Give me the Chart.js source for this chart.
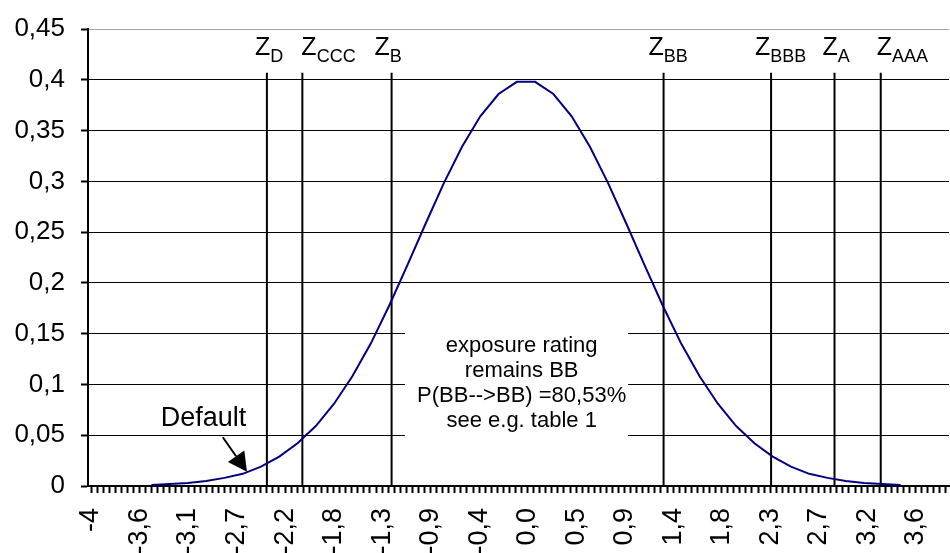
<!DOCTYPE html>
<html lang="en">
<head>
  <meta charset="UTF-8" />
  <title>Rating migration – BB</title>
  <script src="https://cdn.jsdelivr.net/npm/chart.js"></script>
  <style>
    html, body { margin: 0; padding: 0; background: #fff; overflow: hidden; }
    .chart-box { position: absolute; left: 0; top: 0; width: 950px; height: 556px; }
  </style>
</head>
<body>
  <div class="chart-box">
    <canvas id="chart"></canvas>
  </div>

  <script>
    // category axis: one label every 8 categories
    const xTickLabels = ['-4', '-3,6', '-3,1', '-2,7', '-2,2', '-1,8', '-1,3', '-0,9', '-0,4',
                         '0,0', '0,5', '0,9', '1,4', '1,8', '2,3', '2,7', '3,2', '3,6'];
    const categoryCount = 142;
    const categoriesPerLabel = 8;

    const yTickLabels = ['0', '0,05', '0,1', '0,15', '0,2', '0,25', '0,3', '0,35', '0,4', '0,45'];

    // density curve
    const densityX = [-3.485, -3.315, -3.145, -2.975, -2.805, -2.635, -2.465, -2.295, -2.125, -1.955, -1.785,
                      -1.615, -1.445, -1.275, -1.105, -0.935, -0.765, -0.595, -0.425, -0.255, -0.085,
                      0.085, 0.255, 0.425, 0.595, 0.765, 0.935, 1.105, 1.275, 1.445, 1.615,
                      1.785, 1.955, 2.125, 2.295, 2.465, 2.635, 2.805, 2.975, 3.145, 3.315, 3.485];
    const densityY = [0.001, 0.002, 0.003, 0.005, 0.008, 0.012, 0.019, 0.029, 0.042, 0.059, 0.081,
                      0.108, 0.140, 0.177, 0.217, 0.258, 0.298, 0.334, 0.364, 0.386, 0.398,
                      0.398, 0.386, 0.364, 0.334, 0.298, 0.258, 0.217, 0.177, 0.140, 0.108,
                      0.081, 0.059, 0.042, 0.029, 0.019, 0.012, 0.008, 0.005, 0.003, 0.002, 0.001];

    // rating thresholds
    const zNames = ['D', 'CCC', 'B', 'BB', 'BBB', 'A', 'AAA'];
    const zValues = [-2.41, -2.08, -1.25, 1.28, 2.28, 2.87, 3.30];
    const zTop = 0.407;

    const noteLines = ['exposure rating', 'remains BB', 'P(BB-->BB) =80,53%', 'see e.g. table 1'];
    const arrowText = 'Default';

    // label nudges in px (the original places them by hand)
    const zLabelShift = [-12, -1, -17, -15, -16, -12, -4];

    const FONT = '"Liberation Sans", Arial, sans-serif';

    const categories = [];
    for (let i = 0; i < categoryCount; i++) {
      categories.push(i % categoriesPerLabel === 0 ? (xTickLabels[i / categoriesPerLabel] || '') : '');
    }

    const datasets = [{
      label: 'density',
      xAxisID: 'xv',
      data: densityX.map((x, i) => ({ x: x, y: densityY[i] })),
      borderColor: '#000080',
      borderWidth: 2,
      pointRadius: 0,
      tension: 0,
      order: 0
    }];
    zValues.forEach((z, i) => {
      datasets.push({
        label: 'Z' + zNames[i],
        xAxisID: 'xv',
        data: [{ x: z, y: 0 }, { x: z, y: zTop }],
        borderColor: '#000',
        borderWidth: 2,
        pointRadius: 0,
        order: 1
      });
    });

    const annotations = {
      id: 'annotations',
      beforeDatasetsDraw(chart) {
        const { ctx } = chart;
        const xs = chart.scales.xv, ys = chart.scales.y;
        // white box behind the note
        const l = xs.getPixelForValue(-1.126), r = xs.getPixelForValue(0.95);
        const t = ys.getPixelForValue(0.158), b = ys.getPixelForValue(0.016);
        ctx.save();
        ctx.fillStyle = '#fff';
        ctx.fillRect(l, t, r - l, b - t);
        ctx.restore();
      },
      afterDatasetsDraw(chart) {
        const { ctx } = chart;
        const xs = chart.scales.xv, ys = chart.scales.y;
        ctx.save();
        ctx.fillStyle = '#000';
        ctx.textBaseline = 'alphabetic';

        // Z labels
        zValues.forEach((z, i) => {
          let px = xs.getPixelForValue(z) + zLabelShift[i];
          const base = ys.getPixelForValue(0.424);
          ctx.font = '25px ' + FONT;
          ctx.textAlign = 'left';
          ctx.fillText('Z', px, base);
          px += ctx.measureText('Z').width;
          ctx.font = '18px ' + FONT;
          ctx.fillText(zNames[i], px, base + 7);
        });

        // note
        ctx.font = '22px ' + FONT;
        ctx.textAlign = 'center';
        const cx = xs.getPixelForValue(-0.04);
        noteLines.forEach((line, i) => {
          ctx.fillText(line, cx, ys.getPixelForValue(0.132) + i * 25);
        });

        // "Default" with arrow
        ctx.font = '27px ' + FONT;
        ctx.fillText(arrowText, xs.getPixelForValue(-3.0), ys.getPixelForValue(0.059));
        const x0 = xs.getPixelForValue(-2.82), y0 = ys.getPixelForValue(0.048);
        const x1 = xs.getPixelForValue(-2.595), y1 = ys.getPixelForValue(0.014);
        const ang = Math.atan2(y1 - y0, x1 - x0);
        const hl = 19, hw = 10;
        ctx.strokeStyle = '#000';
        ctx.lineWidth = 2;
        ctx.beginPath();
        ctx.moveTo(x0, y0);
        ctx.lineTo(x1 - hl * Math.cos(ang), y1 - hl * Math.sin(ang));
        ctx.stroke();
        ctx.beginPath();
        ctx.moveTo(x1, y1);
        ctx.lineTo(x1 - hl * Math.cos(ang) + hw * Math.sin(ang), y1 - hl * Math.sin(ang) - hw * Math.cos(ang));
        ctx.lineTo(x1 - hl * Math.cos(ang) - hw * Math.sin(ang), y1 - hl * Math.sin(ang) + hw * Math.cos(ang));
        ctx.closePath();
        ctx.fill();
        ctx.restore();
      }
    };

    new Chart(document.getElementById('chart'), {
      type: 'line',
      data: { labels: categories, datasets: datasets },
      options: {
        responsive: true,
        maintainAspectRatio: false,
        animation: false,
        devicePixelRatio: 1,
        layout: { padding: { top: 29, left: 0, right: 1, bottom: 0 } },
        plugins: { legend: { display: false }, tooltip: { enabled: false } },
        scales: {
          x: {
            type: 'category',
            offset: true,
            grid: { display: true, drawOnChartArea: false, drawTicks: true, tickLength: 7, tickWidth: 2, color: '#000', offset: false },
            border: { display: true, color: '#000', width: 2 },
            ticks: {
              autoSkip: false, minRotation: 90, maxRotation: 90, padding: 15, color: '#000',
              font: { family: FONT, size: 27 }
            },
            afterFit(s) { s.height = 70; s.paddingLeft = 0; s.paddingRight = 0; }
          },
          xv: {
            type: 'linear',
            display: false,
            min: -4.074,
            max: 3.935
          },
          y: {
            min: 0,
            max: 0.45,
            ticks: {
              stepSize: 0.05, padding: 16, color: '#000',
              font: { family: FONT, size: 26 },
              callback: (v, i) => yTickLabels[i]
            },
            grid: {
              color: (c) => (c.tick && c.tick.value > 0.449 ? '#a6a6a6' : '#000'),
              tickColor: '#000',
              tickLength: 7,
              tickWidth: 2,
              drawTicks: true
            },
            border: { display: true, color: '#000', width: 2 },
            afterFit(s) { s.width = 88; s.paddingTop = 0; s.paddingBottom = 0; }
          }
        }
      },
      plugins: [annotations]
    });
  </script>
</body>
</html>
